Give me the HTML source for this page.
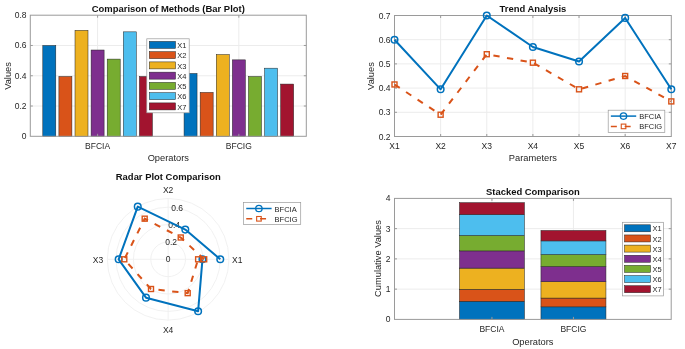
<!DOCTYPE html>
<html><head><meta charset="utf-8"><style>
html,body{margin:0;padding:0;background:#fff;overflow:hidden;width:685px;height:349px;}
svg{display:block;filter:blur(0.3px);}
text{font-family:"Liberation Sans",sans-serif;fill:#262626;}
</style></head><body>
<svg width="685" height="349" viewBox="0 0 685 349">
<rect width="685" height="349" fill="#fff"/>
<line x1="30.3" y1="106.03" x2="306.3" y2="106.03" stroke="#ececec" stroke-width="1" />
<line x1="30.3" y1="75.75" x2="306.3" y2="75.75" stroke="#ececec" stroke-width="1" />
<line x1="30.3" y1="45.48" x2="306.3" y2="45.48" stroke="#ececec" stroke-width="1" />
<line x1="97.6" y1="15.2" x2="97.6" y2="136.3" stroke="#ececec" stroke-width="1" />
<line x1="238.85" y1="15.2" x2="238.85" y2="136.3" stroke="#ececec" stroke-width="1" />
<rect x="42.8" y="45.48" width="13" height="90.82" fill="#0072BD" stroke="#222" stroke-width="0.5"/>
<rect x="58.9" y="76.51" width="13" height="59.79" fill="#D95319" stroke="#222" stroke-width="0.5"/>
<rect x="75" y="30.34" width="13" height="105.96" fill="#EDB120" stroke="#222" stroke-width="0.5"/>
<rect x="91.1" y="50.02" width="13" height="86.28" fill="#7E2F8E" stroke="#222" stroke-width="0.5"/>
<rect x="107.2" y="59.1" width="13" height="77.2" fill="#77AC30" stroke="#222" stroke-width="0.5"/>
<rect x="123.3" y="31.85" width="13" height="104.45" fill="#4DBEEE" stroke="#222" stroke-width="0.5"/>
<rect x="139.4" y="76.51" width="13" height="59.79" fill="#A2142F" stroke="#222" stroke-width="0.5"/>
<rect x="184.05" y="73.48" width="13" height="62.82" fill="#0072BD" stroke="#222" stroke-width="0.5"/>
<rect x="200.15" y="92.4" width="13" height="43.9" fill="#D95319" stroke="#222" stroke-width="0.5"/>
<rect x="216.25" y="54.56" width="13" height="81.74" fill="#EDB120" stroke="#222" stroke-width="0.5"/>
<rect x="232.35" y="59.86" width="13" height="76.44" fill="#7E2F8E" stroke="#222" stroke-width="0.5"/>
<rect x="248.45" y="76.51" width="13" height="59.79" fill="#77AC30" stroke="#222" stroke-width="0.5"/>
<rect x="264.55" y="68.18" width="13" height="68.12" fill="#4DBEEE" stroke="#222" stroke-width="0.5"/>
<rect x="280.65" y="84.08" width="13" height="52.22" fill="#A2142F" stroke="#222" stroke-width="0.5"/>
<rect x="30.3" y="15.2" width="276.0" height="121.10000000000001" fill="none" stroke="#9a9a9a" stroke-width="1"/>
<line x1="30.3" y1="106.03" x2="32.8" y2="106.03" stroke="#9a9a9a" stroke-width="1" />
<line x1="306.3" y1="106.03" x2="303.8" y2="106.03" stroke="#9a9a9a" stroke-width="1" />
<line x1="30.3" y1="75.75" x2="32.8" y2="75.75" stroke="#9a9a9a" stroke-width="1" />
<line x1="306.3" y1="75.75" x2="303.8" y2="75.75" stroke="#9a9a9a" stroke-width="1" />
<line x1="30.3" y1="45.48" x2="32.8" y2="45.48" stroke="#9a9a9a" stroke-width="1" />
<line x1="306.3" y1="45.48" x2="303.8" y2="45.48" stroke="#9a9a9a" stroke-width="1" />
<line x1="97.6" y1="136.3" x2="97.6" y2="133.8" stroke="#9a9a9a" stroke-width="1" />
<line x1="97.6" y1="15.2" x2="97.6" y2="17.7" stroke="#9a9a9a" stroke-width="1" />
<line x1="238.85" y1="136.3" x2="238.85" y2="133.8" stroke="#9a9a9a" stroke-width="1" />
<line x1="238.85" y1="15.2" x2="238.85" y2="17.7" stroke="#9a9a9a" stroke-width="1" />
<text x="26.5" y="139.3" font-size="8.5" text-anchor="end" font-weight="normal" >0</text>
<text x="26.5" y="109.03" font-size="8.5" text-anchor="end" font-weight="normal" >0.2</text>
<text x="26.5" y="78.75" font-size="8.5" text-anchor="end" font-weight="normal" >0.4</text>
<text x="26.5" y="48.48" font-size="8.5" text-anchor="end" font-weight="normal" >0.6</text>
<text x="26.5" y="18.2" font-size="8.5" text-anchor="end" font-weight="normal" >0.8</text>
<text x="97.6" y="149" font-size="8.5" text-anchor="middle" font-weight="normal" >BFCIA</text>
<text x="238.85" y="149" font-size="8.5" text-anchor="middle" font-weight="normal" >BFCIG</text>
<text x="168.3" y="161.3" font-size="9.3" text-anchor="middle" font-weight="normal" >Operators</text>
<text x="10.6" y="76" font-size="9.3" text-anchor="middle" font-weight="normal" transform="rotate(-90 10.6 76)">Values</text>
<text x="168.3" y="11.7" font-size="9.45" text-anchor="middle" font-weight="bold" style="fill:#111">Comparison of Methods (Bar Plot)</text>
<rect x="146.8" y="38.8" width="42.4" height="74" fill="#fff" stroke="#9a9a9a" stroke-width="0.7"/>
<rect x="149.3" y="41.4" width="26.2" height="7" fill="#0072BD" stroke="#222" stroke-width="0.5"/>
<text x="177.2" y="48" font-size="7.5" text-anchor="start" font-weight="normal" >X1</text>
<rect x="149.3" y="51.65" width="26.2" height="7" fill="#D95319" stroke="#222" stroke-width="0.5"/>
<text x="177.2" y="58.25" font-size="7.5" text-anchor="start" font-weight="normal" >X2</text>
<rect x="149.3" y="61.9" width="26.2" height="7" fill="#EDB120" stroke="#222" stroke-width="0.5"/>
<text x="177.2" y="68.5" font-size="7.5" text-anchor="start" font-weight="normal" >X3</text>
<rect x="149.3" y="72.15" width="26.2" height="7" fill="#7E2F8E" stroke="#222" stroke-width="0.5"/>
<text x="177.2" y="78.75" font-size="7.5" text-anchor="start" font-weight="normal" >X4</text>
<rect x="149.3" y="82.4" width="26.2" height="7" fill="#77AC30" stroke="#222" stroke-width="0.5"/>
<text x="177.2" y="89" font-size="7.5" text-anchor="start" font-weight="normal" >X5</text>
<rect x="149.3" y="92.65" width="26.2" height="7" fill="#4DBEEE" stroke="#222" stroke-width="0.5"/>
<text x="177.2" y="99.25" font-size="7.5" text-anchor="start" font-weight="normal" >X6</text>
<rect x="149.3" y="102.9" width="26.2" height="7" fill="#A2142F" stroke="#222" stroke-width="0.5"/>
<text x="177.2" y="109.5" font-size="7.5" text-anchor="start" font-weight="normal" >X7</text>
<line x1="394.5" y1="112.3" x2="671.3" y2="112.3" stroke="#ececec" stroke-width="1" />
<line x1="394.5" y1="88.1" x2="671.3" y2="88.1" stroke="#ececec" stroke-width="1" />
<line x1="394.5" y1="63.9" x2="671.3" y2="63.9" stroke="#ececec" stroke-width="1" />
<line x1="394.5" y1="39.7" x2="671.3" y2="39.7" stroke="#ececec" stroke-width="1" />
<line x1="440.63" y1="15.5" x2="440.63" y2="136.5" stroke="#ececec" stroke-width="1" />
<line x1="486.77" y1="15.5" x2="486.77" y2="136.5" stroke="#ececec" stroke-width="1" />
<line x1="532.9" y1="15.5" x2="532.9" y2="136.5" stroke="#ececec" stroke-width="1" />
<line x1="579.03" y1="15.5" x2="579.03" y2="136.5" stroke="#ececec" stroke-width="1" />
<line x1="625.17" y1="15.5" x2="625.17" y2="136.5" stroke="#ececec" stroke-width="1" />
<rect x="394.5" y="15.5" width="276.8" height="121.0" fill="none" stroke="#9a9a9a" stroke-width="1"/>
<line x1="394.5" y1="112.3" x2="397" y2="112.3" stroke="#9a9a9a" stroke-width="1" />
<line x1="671.3" y1="112.3" x2="668.8" y2="112.3" stroke="#9a9a9a" stroke-width="1" />
<line x1="394.5" y1="88.1" x2="397" y2="88.1" stroke="#9a9a9a" stroke-width="1" />
<line x1="671.3" y1="88.1" x2="668.8" y2="88.1" stroke="#9a9a9a" stroke-width="1" />
<line x1="394.5" y1="63.9" x2="397" y2="63.9" stroke="#9a9a9a" stroke-width="1" />
<line x1="671.3" y1="63.9" x2="668.8" y2="63.9" stroke="#9a9a9a" stroke-width="1" />
<line x1="394.5" y1="39.7" x2="397" y2="39.7" stroke="#9a9a9a" stroke-width="1" />
<line x1="671.3" y1="39.7" x2="668.8" y2="39.7" stroke="#9a9a9a" stroke-width="1" />
<line x1="440.63" y1="136.5" x2="440.63" y2="134" stroke="#9a9a9a" stroke-width="1" />
<line x1="440.63" y1="15.5" x2="440.63" y2="18" stroke="#9a9a9a" stroke-width="1" />
<line x1="486.77" y1="136.5" x2="486.77" y2="134" stroke="#9a9a9a" stroke-width="1" />
<line x1="486.77" y1="15.5" x2="486.77" y2="18" stroke="#9a9a9a" stroke-width="1" />
<line x1="532.9" y1="136.5" x2="532.9" y2="134" stroke="#9a9a9a" stroke-width="1" />
<line x1="532.9" y1="15.5" x2="532.9" y2="18" stroke="#9a9a9a" stroke-width="1" />
<line x1="579.03" y1="136.5" x2="579.03" y2="134" stroke="#9a9a9a" stroke-width="1" />
<line x1="579.03" y1="15.5" x2="579.03" y2="18" stroke="#9a9a9a" stroke-width="1" />
<line x1="625.17" y1="136.5" x2="625.17" y2="134" stroke="#9a9a9a" stroke-width="1" />
<line x1="625.17" y1="15.5" x2="625.17" y2="18" stroke="#9a9a9a" stroke-width="1" />
<text x="390.6" y="139.5" font-size="8.5" text-anchor="end" font-weight="normal" >0.2</text>
<text x="390.6" y="115.3" font-size="8.5" text-anchor="end" font-weight="normal" >0.3</text>
<text x="390.6" y="91.1" font-size="8.5" text-anchor="end" font-weight="normal" >0.4</text>
<text x="390.6" y="66.9" font-size="8.5" text-anchor="end" font-weight="normal" >0.5</text>
<text x="390.6" y="42.7" font-size="8.5" text-anchor="end" font-weight="normal" >0.6</text>
<text x="390.6" y="18.5" font-size="8.5" text-anchor="end" font-weight="normal" >0.7</text>
<text x="394.5" y="148.9" font-size="8.5" text-anchor="middle" font-weight="normal" >X1</text>
<text x="440.63" y="148.9" font-size="8.5" text-anchor="middle" font-weight="normal" >X2</text>
<text x="486.77" y="148.9" font-size="8.5" text-anchor="middle" font-weight="normal" >X3</text>
<text x="532.9" y="148.9" font-size="8.5" text-anchor="middle" font-weight="normal" >X4</text>
<text x="579.03" y="148.9" font-size="8.5" text-anchor="middle" font-weight="normal" >X5</text>
<text x="625.17" y="148.9" font-size="8.5" text-anchor="middle" font-weight="normal" >X6</text>
<text x="671.3" y="148.9" font-size="8.5" text-anchor="middle" font-weight="normal" >X7</text>
<text x="532.9" y="161.3" font-size="9.3" text-anchor="middle" font-weight="normal" >Parameters</text>
<text x="374" y="76" font-size="9.3" text-anchor="middle" font-weight="normal" transform="rotate(-90 374 76)">Values</text>
<text x="532.9" y="11.7" font-size="9.45" text-anchor="middle" font-weight="bold" style="fill:#111">Trend Analysis</text>
<polyline points="394.5,39.7 440.63,89.31 486.77,15.5 532.9,46.96 579.03,61.48 625.17,17.92 671.3,89.31" fill="none" stroke="#0072BD" stroke-width="2" stroke-linejoin="round"/>
<circle cx="394.5" cy="39.7" r="3.3" fill="none" stroke="#0072BD" stroke-width="1.5"/>
<circle cx="440.63" cy="89.31" r="3.3" fill="none" stroke="#0072BD" stroke-width="1.5"/>
<circle cx="486.77" cy="15.5" r="3.3" fill="none" stroke="#0072BD" stroke-width="1.5"/>
<circle cx="532.9" cy="46.96" r="3.3" fill="none" stroke="#0072BD" stroke-width="1.5"/>
<circle cx="579.03" cy="61.48" r="3.3" fill="none" stroke="#0072BD" stroke-width="1.5"/>
<circle cx="625.17" cy="17.92" r="3.3" fill="none" stroke="#0072BD" stroke-width="1.5"/>
<circle cx="671.3" cy="89.31" r="3.3" fill="none" stroke="#0072BD" stroke-width="1.5"/>
<polyline points="394.5,84.47 440.63,114.72 486.77,54.22 532.9,62.69 579.03,89.31 625.17,76 671.3,101.41" fill="none" stroke="#D95319" stroke-width="2" stroke-dasharray="6.3 7.5"/>
<rect x="392" y="81.97" width="5" height="5" fill="none" stroke="#D95319" stroke-width="1.4"/>
<rect x="438.13" y="112.22" width="5" height="5" fill="none" stroke="#D95319" stroke-width="1.4"/>
<rect x="484.27" y="51.72" width="5" height="5" fill="none" stroke="#D95319" stroke-width="1.4"/>
<rect x="530.4" y="60.19" width="5" height="5" fill="none" stroke="#D95319" stroke-width="1.4"/>
<rect x="576.53" y="86.81" width="5" height="5" fill="none" stroke="#D95319" stroke-width="1.4"/>
<rect x="622.67" y="73.5" width="5" height="5" fill="none" stroke="#D95319" stroke-width="1.4"/>
<rect x="668.8" y="98.91" width="5" height="5" fill="none" stroke="#D95319" stroke-width="1.4"/>
<rect x="608.2" y="110.2" width="56.6" height="22.2" fill="#fff" stroke="#9a9a9a" stroke-width="0.7"/>
<line x1="610.85" y1="116.1" x2="636.2" y2="116.1" stroke="#0072BD" stroke-width="1.5" />
<circle cx="623.5" cy="116.1" r="3.2" fill="none" stroke="#0072BD" stroke-width="1.3"/>
<line x1="610.85" y1="126.4" x2="636.2" y2="126.4" stroke="#D95319" stroke-width="1.5" stroke-dasharray="6 7.8"/>
<rect x="621.25" y="124.1" width="4.6" height="4.6" fill="none" stroke="#D95319" stroke-width="1.1"/>
<text x="639.2" y="119.1" font-size="7.5" text-anchor="start" font-weight="normal" >BFCIA</text>
<text x="639.2" y="129.4" font-size="7.5" text-anchor="start" font-weight="normal" >BFCIG</text>
<circle cx="168.15" cy="259.3" r="17.37" fill="none" stroke="#efefef" stroke-width="0.9"/>
<circle cx="168.15" cy="259.3" r="34.74" fill="none" stroke="#efefef" stroke-width="0.9"/>
<circle cx="168.15" cy="259.3" r="52.11" fill="none" stroke="#efefef" stroke-width="0.9"/>
<circle cx="168.15" cy="259.3" r="60.8" fill="none" stroke="#efefef" stroke-width="0.9"/>
<line x1="107.35" y1="259.3" x2="228.95" y2="259.3" stroke="#efefef" stroke-width="0.9" />
<line x1="168.15" y1="198.5" x2="168.15" y2="320.1" stroke="#efefef" stroke-width="0.9" />
<text x="168.15" y="262.3" font-size="8.5" text-anchor="middle" font-weight="normal" >0</text>
<text x="171.17" y="245.19" font-size="8.5" text-anchor="middle" font-weight="normal" >0.2</text>
<text x="174.18" y="228.08" font-size="8.5" text-anchor="middle" font-weight="normal" >0.4</text>
<text x="177.2" y="210.98" font-size="8.5" text-anchor="middle" font-weight="normal" >0.6</text>
<text x="232.05" y="262.8" font-size="8.5" text-anchor="start" font-weight="normal" >X1</text>
<text x="168.15" y="192.9" font-size="8.5" text-anchor="middle" font-weight="normal" >X2</text>
<text x="103.25" y="262.8" font-size="8.5" text-anchor="end" font-weight="normal" >X3</text>
<text x="168.15" y="332.6" font-size="8.5" text-anchor="middle" font-weight="normal" >X4</text>
<text x="168.25" y="180.3" font-size="9.45" text-anchor="middle" font-weight="bold" style="fill:#111">Radar Plot Comparison</text>
<polyline points="220.26,259.3 185.3,229.59 137.75,206.65 118.64,259.3 146,297.66 198.12,311.2 202.46,259.3" fill="none" stroke="#0072BD" stroke-width="2" stroke-linejoin="round"/>
<circle cx="220.26" cy="259.3" r="3.3" fill="none" stroke="#0072BD" stroke-width="1.5"/>
<circle cx="185.3" cy="229.59" r="3.3" fill="none" stroke="#0072BD" stroke-width="1.5"/>
<circle cx="137.75" cy="206.65" r="3.3" fill="none" stroke="#0072BD" stroke-width="1.5"/>
<circle cx="118.64" cy="259.3" r="3.3" fill="none" stroke="#0072BD" stroke-width="1.5"/>
<circle cx="146" cy="297.66" r="3.3" fill="none" stroke="#0072BD" stroke-width="1.5"/>
<circle cx="198.12" cy="311.2" r="3.3" fill="none" stroke="#0072BD" stroke-width="1.5"/>
<circle cx="202.46" cy="259.3" r="3.3" fill="none" stroke="#0072BD" stroke-width="1.5"/>
<polyline points="204.2,259.3 180.74,237.49 144.7,218.68 124.29,259.3 151,289.01 187.69,293.15 198.12,259.3" fill="none" stroke="#D95319" stroke-width="2" stroke-dasharray="6.3 7.5"/>
<rect x="201.7" y="256.8" width="5" height="5" fill="none" stroke="#D95319" stroke-width="1.4"/>
<rect x="178.24" y="234.99" width="5" height="5" fill="none" stroke="#D95319" stroke-width="1.4"/>
<rect x="142.2" y="216.18" width="5" height="5" fill="none" stroke="#D95319" stroke-width="1.4"/>
<rect x="121.79" y="256.8" width="5" height="5" fill="none" stroke="#D95319" stroke-width="1.4"/>
<rect x="148.5" y="286.51" width="5" height="5" fill="none" stroke="#D95319" stroke-width="1.4"/>
<rect x="185.19" y="290.65" width="5" height="5" fill="none" stroke="#D95319" stroke-width="1.4"/>
<rect x="195.62" y="256.8" width="5" height="5" fill="none" stroke="#D95319" stroke-width="1.4"/>
<rect x="243.6" y="202.6" width="57.1" height="21.8" fill="#fff" stroke="#9a9a9a" stroke-width="0.7"/>
<line x1="246.25" y1="208.5" x2="271.6" y2="208.5" stroke="#0072BD" stroke-width="1.5" />
<circle cx="258.9" cy="208.5" r="3.2" fill="none" stroke="#0072BD" stroke-width="1.3"/>
<line x1="246.25" y1="218.8" x2="271.6" y2="218.8" stroke="#D95319" stroke-width="1.5" stroke-dasharray="6 7.8"/>
<rect x="256.65" y="216.5" width="4.6" height="4.6" fill="none" stroke="#D95319" stroke-width="1.1"/>
<text x="274.6" y="211.5" font-size="7.5" text-anchor="start" font-weight="normal" >BFCIA</text>
<text x="274.6" y="221.8" font-size="7.5" text-anchor="start" font-weight="normal" >BFCIG</text>
<line x1="394.5" y1="289.15" x2="671.2" y2="289.15" stroke="#ececec" stroke-width="1" />
<line x1="394.5" y1="258.9" x2="671.2" y2="258.9" stroke="#ececec" stroke-width="1" />
<line x1="394.5" y1="228.65" x2="671.2" y2="228.65" stroke="#ececec" stroke-width="1" />
<line x1="491.95" y1="198.4" x2="491.95" y2="319.4" stroke="#ececec" stroke-width="1" />
<line x1="573.45" y1="198.4" x2="573.45" y2="319.4" stroke="#ececec" stroke-width="1" />
<rect x="459.45" y="301.25" width="65" height="18.15" fill="#0072BD" stroke="#222" stroke-width="0.5"/>
<rect x="459.45" y="289.3" width="65" height="11.95" fill="#D95319" stroke="#222" stroke-width="0.5"/>
<rect x="459.45" y="268.13" width="65" height="21.18" fill="#EDB120" stroke="#222" stroke-width="0.5"/>
<rect x="459.45" y="250.88" width="65" height="17.24" fill="#7E2F8E" stroke="#222" stroke-width="0.5"/>
<rect x="459.45" y="235.46" width="65" height="15.43" fill="#77AC30" stroke="#222" stroke-width="0.5"/>
<rect x="459.45" y="214.58" width="65" height="20.87" fill="#4DBEEE" stroke="#222" stroke-width="0.5"/>
<rect x="459.45" y="202.64" width="65" height="11.95" fill="#A2142F" stroke="#222" stroke-width="0.5"/>
<rect x="540.95" y="306.85" width="65" height="12.55" fill="#0072BD" stroke="#222" stroke-width="0.5"/>
<rect x="540.95" y="298.07" width="65" height="8.77" fill="#D95319" stroke="#222" stroke-width="0.5"/>
<rect x="540.95" y="281.74" width="65" height="16.33" fill="#EDB120" stroke="#222" stroke-width="0.5"/>
<rect x="540.95" y="266.46" width="65" height="15.28" fill="#7E2F8E" stroke="#222" stroke-width="0.5"/>
<rect x="540.95" y="254.51" width="65" height="11.95" fill="#77AC30" stroke="#222" stroke-width="0.5"/>
<rect x="540.95" y="240.9" width="65" height="13.61" fill="#4DBEEE" stroke="#222" stroke-width="0.5"/>
<rect x="540.95" y="230.46" width="65" height="10.44" fill="#A2142F" stroke="#222" stroke-width="0.5"/>
<rect x="394.5" y="198.4" width="276.7" height="121" fill="none" stroke="#9a9a9a" stroke-width="1"/>
<line x1="394.5" y1="289.15" x2="397" y2="289.15" stroke="#9a9a9a" stroke-width="1" />
<line x1="671.2" y1="289.15" x2="668.7" y2="289.15" stroke="#9a9a9a" stroke-width="1" />
<line x1="394.5" y1="258.9" x2="397" y2="258.9" stroke="#9a9a9a" stroke-width="1" />
<line x1="671.2" y1="258.9" x2="668.7" y2="258.9" stroke="#9a9a9a" stroke-width="1" />
<line x1="394.5" y1="228.65" x2="397" y2="228.65" stroke="#9a9a9a" stroke-width="1" />
<line x1="671.2" y1="228.65" x2="668.7" y2="228.65" stroke="#9a9a9a" stroke-width="1" />
<line x1="491.95" y1="319.4" x2="491.95" y2="316.9" stroke="#9a9a9a" stroke-width="1" />
<line x1="491.95" y1="198.4" x2="491.95" y2="200.9" stroke="#9a9a9a" stroke-width="1" />
<line x1="573.45" y1="319.4" x2="573.45" y2="316.9" stroke="#9a9a9a" stroke-width="1" />
<line x1="573.45" y1="198.4" x2="573.45" y2="200.9" stroke="#9a9a9a" stroke-width="1" />
<text x="390.6" y="322.4" font-size="8.5" text-anchor="end" font-weight="normal" >0</text>
<text x="390.6" y="292.15" font-size="8.5" text-anchor="end" font-weight="normal" >1</text>
<text x="390.6" y="261.9" font-size="8.5" text-anchor="end" font-weight="normal" >2</text>
<text x="390.6" y="231.65" font-size="8.5" text-anchor="end" font-weight="normal" >3</text>
<text x="390.6" y="201.4" font-size="8.5" text-anchor="end" font-weight="normal" >4</text>
<text x="491.95" y="332.3" font-size="8.5" text-anchor="middle" font-weight="normal" >BFCIA</text>
<text x="573.45" y="332.3" font-size="8.5" text-anchor="middle" font-weight="normal" >BFCIG</text>
<text x="532.8" y="344.6" font-size="9.3" text-anchor="middle" font-weight="normal" >Operators</text>
<text x="381" y="258.5" font-size="9.3" text-anchor="middle" font-weight="normal" transform="rotate(-90 381 258.5)">Cumulative Values</text>
<text x="532.9" y="195.2" font-size="9.45" text-anchor="middle" font-weight="bold" style="fill:#111">Stacked Comparison</text>
<rect x="622.5" y="222.3" width="40.9" height="73.6" fill="#fff" stroke="#9a9a9a" stroke-width="0.7"/>
<rect x="624.5" y="224.8" width="26" height="7" fill="#0072BD" stroke="#222" stroke-width="0.5"/>
<text x="652.4" y="231.4" font-size="7.5" text-anchor="start" font-weight="normal" >X1</text>
<rect x="624.5" y="234.95" width="26" height="7" fill="#D95319" stroke="#222" stroke-width="0.5"/>
<text x="652.4" y="241.55" font-size="7.5" text-anchor="start" font-weight="normal" >X2</text>
<rect x="624.5" y="245.1" width="26" height="7" fill="#EDB120" stroke="#222" stroke-width="0.5"/>
<text x="652.4" y="251.7" font-size="7.5" text-anchor="start" font-weight="normal" >X3</text>
<rect x="624.5" y="255.25" width="26" height="7" fill="#7E2F8E" stroke="#222" stroke-width="0.5"/>
<text x="652.4" y="261.85" font-size="7.5" text-anchor="start" font-weight="normal" >X4</text>
<rect x="624.5" y="265.4" width="26" height="7" fill="#77AC30" stroke="#222" stroke-width="0.5"/>
<text x="652.4" y="272" font-size="7.5" text-anchor="start" font-weight="normal" >X5</text>
<rect x="624.5" y="275.55" width="26" height="7" fill="#4DBEEE" stroke="#222" stroke-width="0.5"/>
<text x="652.4" y="282.15" font-size="7.5" text-anchor="start" font-weight="normal" >X6</text>
<rect x="624.5" y="285.7" width="26" height="7" fill="#A2142F" stroke="#222" stroke-width="0.5"/>
<text x="652.4" y="292.3" font-size="7.5" text-anchor="start" font-weight="normal" >X7</text>
</svg></body></html>
